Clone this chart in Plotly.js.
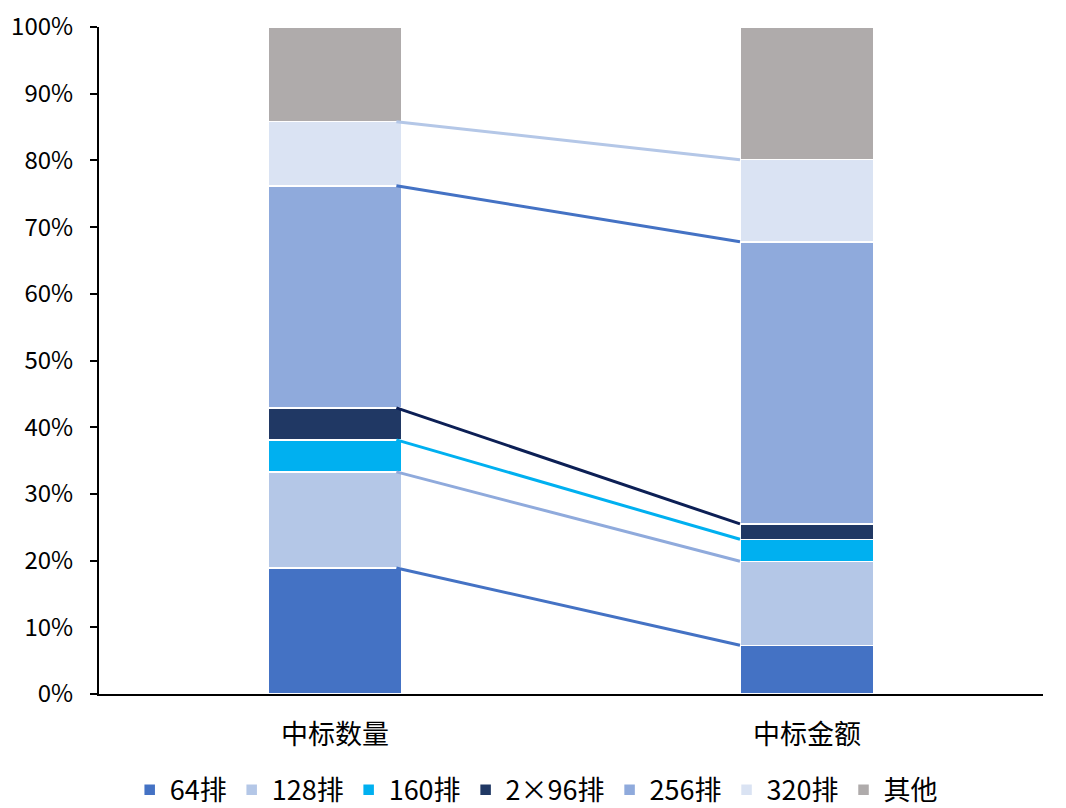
<!DOCTYPE html>
<html>
<head>
<meta charset="utf-8">
<script src="https://cdn.plot.ly/plotly-3.0.1.min.js"></script>
<style>
  html, body { margin: 0; padding: 0; background: #fff; }
  #chart { width: 1066px; height: 808px; }
</style>
</head>
<body>
<div id="chart"></div>
<script>
    // categories and shares (%)
    var categories = ['中标数量', '中标金额'];
    var seriesNames = ['64排', '128排', '160排', '2×96排', '256排', '320排', '其他'];
    var countShare = [18.9, 14.4, 4.8, 4.8, 33.3, 9.6, 14.2];
    var amountShare = [7.3, 12.6, 3.3, 2.3, 42.3, 12.3, 19.9];

    var barColors = ['#4472C4', '#B4C7E7', '#00B0F0', '#203864', '#8FAADC', '#DAE3F3', '#AFABAB'];
    // connector colours (the top edge of each segment)
    var lineColors = ['#4472C4', '#8FAADC', '#00B0F0', '#0C1F55', '#4472C4', '#B4C7E7'];

    var font = '"Noto Sans CJK SC", "Noto Sans", sans-serif';
    var barWidth = 0.284;
    var data = [];

    for (let i = 0; i < seriesNames.length; i++) {
        data.push({
            type: 'bar',
            name: seriesNames[i],
            x: [0, 1],
            y: [countShare[i] / 100, amountShare[i] / 100],
            width: barWidth,
            marker: {color: barColors[i], line: {color: '#ffffff', width: 1.5}},
            hoverinfo: 'name+y'
        });
    }

    // connecting lines between cumulative tops
    var cumA = 0, cumB = 0;
    for (let i = 0; i < seriesNames.length - 1; i++) {
        cumA += countShare[i];
        cumB += amountShare[i];
        data.push({
            type: 'scatter',
            mode: 'lines',
            x: [barWidth / 2 - 0.012, 1 - barWidth / 2],
            y: [cumA / 100, cumB / 100],
            line: {color: lineColors[i], width: 3},
            showlegend: false,
            hoverinfo: 'skip'
        });
    }

    var layout = {
        width: 1066,
        height: 808,
        barmode: 'stack',
        margin: {l: 99, r: 23, t: 27, b: 114},
        paper_bgcolor: '#ffffff',
        plot_bgcolor: '#ffffff',
        font: {family: font, size: 24, color: '#000000'},
        showlegend: true,
        legend: {
            orientation: 'h',
            xref: 'container', x: 0.503, xanchor: 'center',
            yref: 'container', y: 0.022, yanchor: 'middle',
            font: {family: font, size: 27, color: '#000000'},
            itemwidth: 30,
            traceorder: 'normal'
        },
        xaxis: {
            type: 'linear',
            range: [-0.5, 1.5],
            tickvals: [0, 1],
            ticktext: categories,
            showline: true,
            linecolor: '#000000',
            linewidth: 1.5,
            ticks: '',
            ticklabelstandoff: 16,
            showgrid: false,
            zeroline: false,
            fixedrange: true,
            automargin: false,
            tickfont: {family: font, size: 27}
        },
        yaxis: {
            range: [0, 1],
            dtick: 0.1,
            tickformat: '.0%',
            showline: true,
            linecolor: '#000000',
            linewidth: 2,
            ticks: 'outside',
            ticklen: 7,
            tickwidth: 2,
            tickcolor: '#000000',
            ticklabelstandoff: 12,
            showgrid: false,
            zeroline: false,
            fixedrange: true,
            automargin: false,
            tickfont: {family: font, size: 24}
        }
    };

    Plotly.newPlot('chart', data, layout, {displayModeBar: false, responsive: false});
</script>
</body>
</html>
